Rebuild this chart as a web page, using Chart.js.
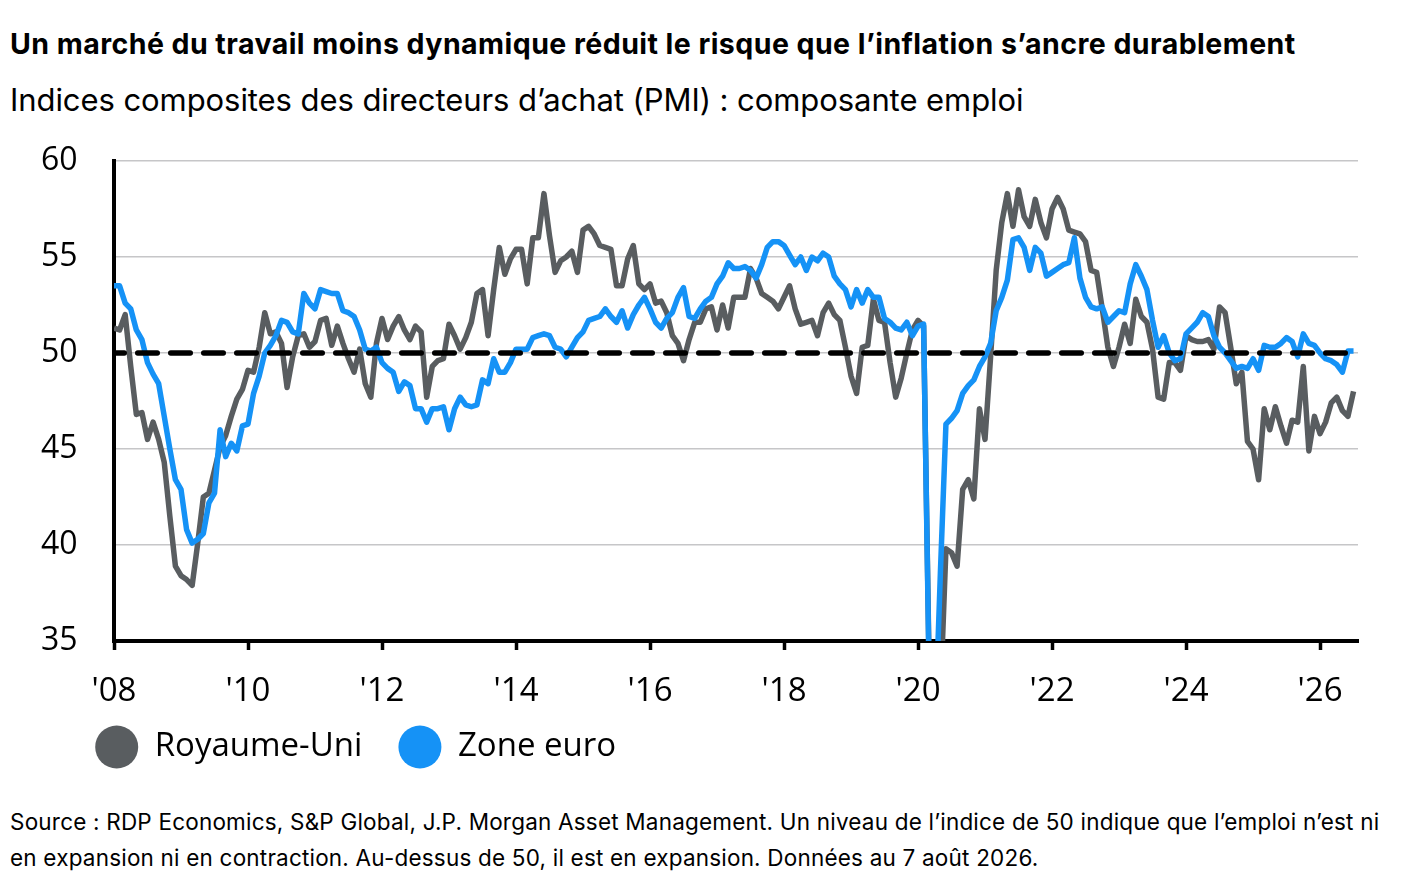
<!DOCTYPE html>
<html lang="fr">
<head>
<meta charset="utf-8">
<script src="https://cdn.jsdelivr.net/npm/chart.js@4.4.1/dist/chart.umd.min.js"></script>
<style>
  html, body { margin:0; padding:0; background:#fff; width:1404px; height:884px; overflow:hidden; }
  #title { position:absolute; left:10px; top:27px; font:700 28.5px/34px Inter, sans-serif; color:#000; white-space:nowrap; letter-spacing:0.45px; }
  #subtitle { position:absolute; left:10px; top:80px; font:400 31px/40px Inter, sans-serif; color:#000; white-space:nowrap; letter-spacing:-0.07px; }
  #chartBox { position:absolute; left:0; top:130px; width:1404px; height:660px; }
  #footer { position:absolute; left:10px; top:804px; font:400 22.5px/36px Inter, sans-serif; color:#000; white-space:nowrap; letter-spacing:0.2px; }
</style>
</head>
<body>
<div id="title">Un marché du travail moins dynamique réduit le risque que l’inflation s’ancre durablement</div>
<div id="subtitle">Indices composites des directeurs d’achat (PMI) : composante emploi</div>
<div id="chartBox"><canvas id="c"></canvas></div>
<div id="footer">Source : RDP Economics, S&amp;P Global, J.P. Morgan Asset Management. Un niveau de l’indice de 50 indique que l’emploi n’est ni<br>en expansion ni en contraction. Au-dessus de 50, il est en expansion. Données au 7 août 2026.</div>
<script>
// Months: January 2008 .. July 2026 (index 0 .. 222)
const months = [];
for (let i = 0; i < 223; i++) {
  months.push((2008 + Math.floor(i / 12)) + '-' + String(i % 12 + 1).padStart(2, '0'));
}

const seriesNames = ['Royaume-Uni', 'Zone euro'];

const ukValues = [
  51.3, 51.2, 52.0, 49.3, 46.8, 46.9, 45.5, 46.4, 45.5, 44.3, 41.5, 38.9,
  38.4, 38.2, 37.9, 40.1, 42.5, 42.7, 43.9, 45.1, 45.7, 46.7, 47.6, 48.1,
  49.1, 49.0, 50.3, 52.1, 51.0, 51.1, 50.5, 48.2, 49.8, 50.9, 51.0, 50.3,
  50.6, 51.7, 51.8, 50.4, 51.4, 50.5, 49.7, 49.0, 50.2, 48.4, 47.7, 50.5,
  51.8, 50.7, 51.4, 51.9, 51.2, 50.7, 51.4, 51.1, 47.7, 49.3, 49.6, 49.7,
  51.5, 50.9, 50.2, 50.8, 51.6, 53.1, 53.3, 50.9, 53.3, 55.5, 54.1, 54.9,
  55.4, 55.4, 53.6, 56.0, 56.0, 58.3, 56.1, 54.2, 54.8, 55.0, 55.3, 54.2,
  56.4, 56.6, 56.2, 55.6, 55.5, 55.4, 53.5, 53.5, 54.9, 55.6, 53.6, 53.3,
  53.6, 52.6, 52.7, 52.1, 50.9, 50.5, 49.6, 50.7, 51.6, 51.6, 52.3, 52.4,
  51.2, 52.5, 51.3, 52.9, 52.9, 52.9, 54.4, 53.9, 53.1, 52.9, 52.7, 52.3,
  52.9, 53.5, 52.3, 51.5, 51.6, 51.7, 50.9, 52.1, 52.6, 52.0, 51.7, 50.3,
  48.8, 47.9, 50.3, 50.4, 52.8, 51.7, 51.6, 49.5, 47.7, 48.7, 50.0, 51.2,
  51.7, 51.4, 33.5, 30.0, 32.0, 39.8, 39.6, 38.9, 42.9, 43.4, 42.4, 47.1,
  45.5, 49.8, 54.3, 56.8, 58.3, 56.6, 58.5, 57.1, 56.6, 58.0, 56.8, 56.0,
  57.5, 58.1, 57.5, 56.4, 56.3, 56.2, 55.8, 54.3, 54.2, 52.3, 50.3, 49.3,
  50.3, 51.5, 50.5, 52.8, 51.9, 51.6, 50.2, 47.7, 47.6, 49.5, 49.5, 49.1,
  50.9, 50.7, 50.6, 50.6, 50.7, 50.2, 52.4, 52.1, 50.3, 48.4, 49.0, 45.4,
  45.0, 43.4, 47.1, 46.0, 47.2, 46.2, 45.3, 46.5, 46.4, 49.3, 44.9, 46.7,
  45.8, 46.4, 47.4, 47.7, 47.0, 46.7, 48.0
];

const ezValues = [
  53.5, 53.5, 52.6, 52.3, 51.2, 50.7, 49.5, 48.9, 48.4, 46.7, 45.0, 43.4,
  42.9, 40.8, 40.1, 40.3, 40.6, 42.2, 42.7, 46.0, 44.6, 45.3, 44.9, 46.2,
  46.3, 47.9, 48.8, 50.0, 50.4, 50.9, 51.7, 51.6, 51.1, 51.0, 53.1, 52.6,
  52.3, 53.3, 53.2, 53.1, 53.1, 52.2, 52.1, 51.9, 51.2, 50.2, 50.1, 50.3,
  49.5, 49.2, 49.0, 48.0, 48.5, 48.3, 47.1, 47.1, 46.4, 47.1, 47.1, 47.2,
  46.0, 47.1, 47.7, 47.3, 47.2, 47.3, 48.6, 48.4, 49.7, 49.0, 49.0, 49.5,
  50.2, 50.2, 50.2, 50.8, 50.9, 51.0, 50.9, 50.3, 50.2, 49.8, 50.3, 50.8,
  51.1, 51.7, 51.8, 51.9, 52.3, 51.9, 51.6, 52.2, 51.3, 52.0, 52.5, 52.9,
  52.3, 51.6, 51.3, 51.8, 52.1, 52.9, 53.4, 51.9, 51.8, 52.3, 52.7, 52.9,
  53.6, 54.0, 54.7, 54.4, 54.4, 54.5, 54.3, 53.9, 54.6, 55.5, 55.8, 55.8,
  55.6, 55.1, 54.6, 55.0, 54.3, 55.0, 54.8, 55.2, 55.0, 54.0, 53.6, 53.3,
  52.4, 53.3, 52.6, 53.3, 52.9, 52.9, 51.8, 51.6, 51.3, 51.2, 51.6, 50.9,
  51.4, 51.5, 33.0, 30.0, 38.5, 46.3, 46.6, 47.0, 47.9, 48.3, 48.6, 49.3,
  49.8, 50.5, 52.2, 52.9, 53.8, 55.9, 56.0, 55.5, 54.3, 55.5, 55.2, 54.0,
  54.2, 54.4, 54.6, 54.7, 56.0, 53.9, 52.9, 52.4, 52.3, 52.4, 51.6, 51.9,
  52.2, 52.1, 53.6, 54.6, 54.0, 53.3, 51.7, 50.3, 50.9, 50.0, 49.6, 49.7,
  51.0, 51.3, 51.6, 52.1, 51.9, 50.9, 50.3, 50.0, 49.6, 49.2, 49.3, 49.2,
  49.7, 49.1, 50.4, 50.3, 50.3, 50.5, 50.8, 50.6, 49.8, 51.0, 50.5, 50.4,
  50.0, 49.7, 49.6, 49.4, 49.0, 50.1, 50.1
];

const xTickLabels = ["'08", "'10", "'12", "'14", "'16", "'18", "'20", "'22", "'24", "'26"];
const xTickMonths = ['2008-01', '2010-01', '2012-01', '2014-01', '2016-01', '2018-01', '2020-01', '2022-01', '2024-01', '2026-01'];
const yTicks = [35, 40, 45, 50, 55, 60];
const neutralLevel = 50;

const UK_COLOR = '#595d60';
const EZ_COLOR = '#1592f6';
const FONT_FAMILY = "'Open Sans', 'Noto Sans', sans-serif";

const toPoints = vals => vals.map((v, i) => ({ x: i, y: v }));
const tickIdx = xTickMonths.map(m => months.indexOf(m));

new Chart(document.getElementById('c'), {
  type: 'line',
  data: {
    datasets: [
      {
        label: seriesNames[0], data: toPoints(ukValues),
        borderColor: UK_COLOR, backgroundColor: UK_COLOR, pointBackgroundColor: UK_COLOR,
        borderWidth: 5.5, pointRadius: 0, pointBorderWidth: 0, pointStyle: 'circle',
        tension: 0, borderJoinStyle: 'round', order: 2
      },
      {
        label: seriesNames[1], data: toPoints(ezValues),
        borderColor: EZ_COLOR, backgroundColor: EZ_COLOR, pointBackgroundColor: EZ_COLOR,
        borderWidth: 5.5, pointRadius: 0, pointBorderWidth: 0, pointStyle: 'circle',
        tension: 0, borderJoinStyle: 'round', order: 1
      },
      {
        label: 'seuil', data: [{ x: 0, y: neutralLevel }, { x: months.length - 1, y: neutralLevel }],
        borderColor: '#000', backgroundColor: '#000', borderWidth: 5.5, pointRadius: 0,
        borderDash: [19.5, 13.5], borderDashOffset: 9.25, borderCapStyle: 'round', order: 0
      }
    ]
  },
  options: {
    responsive: true,
    maintainAspectRatio: false,
    animation: false,
    layout: { padding: { left: 67.7, right: 46, top: 31, bottom: 16.5 } },
    plugins: {
      tooltip: { enabled: false },
      legend: {
        position: 'bottom',
        align: 'start',
        labels: {
          generateLabels: chart => {
            const items = Chart.defaults.plugins.legend.labels.generateLabels(chart)
              .filter(it => it.datasetIndex < 2)
              .sort((a, b) => a.datasetIndex - b.datasetIndex);
            items.forEach(it => { if (it.datasetIndex === 0) it.text = it.text + ' '; });
            return items;
          },
          usePointStyle: true,
          pointStyle: 'circle',
          boxHeight: 30.4,
          pointStyleWidth: 43,
          padding: 27.5,
          color: '#000',
          font: { family: FONT_FAMILY, size: 33 }
        }
      }
    },
    scales: {
      x: {
        type: 'linear',
        min: 0,
        max: 222.8,
        afterBuildTicks: s => { s.ticks = tickIdx.map(v => ({ value: v })); },
        afterFit: s => { s.height = 62; },
        ticks: {
          padding: 21.5,
          color: '#000',
          font: { family: FONT_FAMILY, size: 33 },
          maxRotation: 0,
          autoSkip: false,
          callback: v => { const k = tickIdx.indexOf(v); return k >= 0 ? xTickLabels[k] : null; }
        },
        grid: { display: true, drawOnChartArea: false, drawTicks: true, tickLength: 9, tickColor: '#000', tickWidth: 3.5, color: '#000' },
        border: { display: true, color: '#000', width: 4 }
      },
      y: {
        min: 35,
        max: 60,
        afterBuildTicks: s => { s.ticks = yTicks.map(v => ({ value: v })); },
        afterFit: s => { s.width = 46.3; },
        ticks: { mirror: true, padding: -73, color: '#000', font: { family: FONT_FAMILY, size: 32 } },
        grid: { drawTicks: false, color: '#c6c6c8', lineWidth: 1.5 },
        border: { display: true, color: '#000', width: 4 }
      }
    }
  }
});
</script>
</body>
</html>
